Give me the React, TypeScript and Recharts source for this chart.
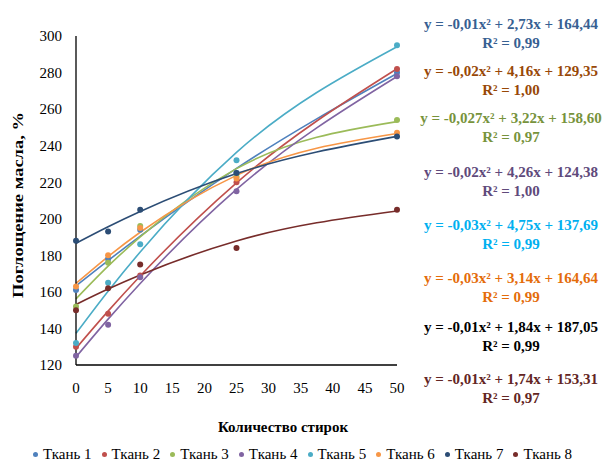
import { ComposedChart, Line, XAxis, YAxis, Legend } from 'recharts'

const WASHES = [0, 5, 10, 25, 50]
const FABRICS = ['Ткань 1', 'Ткань 2', 'Ткань 3', 'Ткань 4', 'Ткань 5', 'Ткань 6', 'Ткань 7', 'Ткань 8']

const FABRIC_1 = [161, 178, 194, 225, 280]
const FABRIC_2 = [130, 148, 169, 220, 282]
const FABRIC_3 = [152, 176, 196, 223, 254]
const FABRIC_4 = [125, 142, 168, 215, 278]
const FABRIC_5 = [132, 165, 186, 232, 295]
const FABRIC_6 = [163, 180, 195, 222, 247]
const FABRIC_7 = [188, 193, 205, 225, 245]
const FABRIC_8 = [150, 162, 175, 184, 205]

const EQUATIONS = [
  'y = -0,01x² + 2,73x + 164,44',
  'y = -0,02x² + 4,16x + 129,35',
  'y = -0,027x² + 3,22x + 158,60',
  'y = -0,02x² + 4,26x + 124,38',
  'y = -0,03x² + 4,75x + 137,69',
  'y = -0,03x² + 3,14x + 164,64',
  'y = -0,01x² + 1,84x + 187,05',
  'y = -0,01x² + 1,74x + 153,31',
]
const R_SQUARED = ['R² = 0,99', 'R² = 1,00', 'R² = 0,97', 'R² = 1,00', 'R² = 0,99', 'R² = 0,99', 'R² = 0,99', 'R² = 0,97']

const X_TICKS = [0, 5, 10, 15, 20, 25, 30, 35, 40, 45, 50]
const Y_TICKS = [120, 140, 160, 180, 200, 220, 240, 260, 280, 300]

const SERIES = [FABRIC_1, FABRIC_2, FABRIC_3, FABRIC_4, FABRIC_5, FABRIC_6, FABRIC_7, FABRIC_8]
const COLORS = ['#4F81BD', '#C0504D', '#9BBB59', '#8064A2', '#4BACC6', '#F79646', '#2C4D75', '#772C2A']
const EQ_COLORS = ['#376092', '#984807', '#77933C', '#604A7B', '#00B0F0', '#E46C0A', '#000000', '#632523']
const EQ_BASELINES = [29, 76, 123, 177, 230, 283, 332, 384]

const FONT = '"Liberation Serif", "Times New Roman", serif'

// least squares, 2nd order polynomial (same as the excel trendline)
function quadFit(xs: number[], ys: number[]) {
  let n = 0, sx = 0, sx2 = 0, sx3 = 0, sx4 = 0, sy = 0, sxy = 0, sx2y = 0
  xs.forEach((x, i) => {
    const y = ys[i]
    n += 1; sx += x; sx2 += x * x; sx3 += x ** 3; sx4 += x ** 4
    sy += y; sxy += x * y; sx2y += x * x * y
  })
  const det = (m: number[][]) =>
    m[0][0] * (m[1][1] * m[2][2] - m[1][2] * m[2][1]) -
    m[0][1] * (m[1][0] * m[2][2] - m[1][2] * m[2][0]) +
    m[0][2] * (m[1][0] * m[2][1] - m[1][1] * m[2][0])
  const A = [[sx4, sx3, sx2], [sx3, sx2, sx], [sx2, sx, n]]
  const B = [sx2y, sxy, sy]
  const D = det(A)
  const coef = [0, 1, 2].map((c) => det(A.map((row, r) => row.map((v, j) => (j === c ? B[r] : v)))) / D)
  return (x: number) => coef[0] * x * x + coef[1] * x + coef[2]
}

const fits = SERIES.map((ys) => quadFit(WASHES, ys))

const data = WASHES.map((x, i) => {
  const row: Record<string, number> = { x }
  SERIES.forEach((ys, k) => {
    row[`p${k}`] = ys[i]
    row[`f${k}`] = fits[k](x)
  })
  return row
})

function LegendRow({ payload }: any) {
  const items = (payload || []).filter((p: any) => FABRICS.includes(p.value))
  return (
    <div style={{ display: 'flex', justifyContent: 'center', fontFamily: FONT, fontSize: 15, color: '#000', whiteSpace: 'nowrap' }}>
      {items.map((p: any) => {
        const idx = FABRICS.indexOf(p.value)
        return (
          <div key={p.value} style={{ display: 'flex', alignItems: 'center', margin: '0 5px', flexShrink: 0 }}>
            <span style={{ width: 5, height: 5, borderRadius: '50%', background: COLORS[idx], marginRight: 5 }} />
            <span>{p.value}</span>
          </div>
        )
      })}
    </div>
  )
}

export default function App() {
  return (
    <div style={{ position: 'absolute', left: 0, top: 0, width: 605, height: 466, background: '#fff', fontFamily: FONT }}>
      <ComposedChart width={605} height={466} data={data} margin={{ top: 36, right: 208, bottom: 71, left: 16 }}>
        <XAxis
          type="number"
          dataKey="x"
          domain={[0, 50]}
          ticks={X_TICKS}
          tickSize={0}
          tickMargin={17}
          axisLine={{ stroke: '#000', strokeWidth: 1.3 }}
          tick={{ fill: '#000', fontSize: 15, fontFamily: FONT }}
          height={30}
        />
        <YAxis
          domain={[120, 300]}
          ticks={Y_TICKS}
          tickSize={0}
          tickMargin={14}
          width={60}
          axisLine={{ stroke: '#000', strokeWidth: 1.3 }}
          tick={{ fill: '#000', fontSize: 15, fontFamily: FONT }}
        />
        {SERIES.map((_, k) => (
          <Line
            key={`f${k}`}
            dataKey={`f${k}`}
            type="monotone"
            stroke={COLORS[k]}
            strokeWidth={1.6}
            dot={false}
            activeDot={false}
            legendType="none"
            isAnimationActive={false}
          />
        ))}
        {SERIES.map((_, k) => (
          <Line
            key={`p${k}`}
            dataKey={`p${k}`}
            name={FABRICS[k]}
            stroke="none"
            dot={{ r: 3, fill: COLORS[k], stroke: 'none' }}
            activeDot={false}
            isAnimationActive={false}
          />
        ))}
        <Legend
          layout="horizontal"
          verticalAlign="middle"
          align="center"
          content={LegendRow}
          wrapperStyle={{ top: 446, left: 0, width: 605 }}
        />
        <g style={{ fontFamily: FONT }} fontWeight="bold" fontSize={15}>
          <text
            x={18}
            y={205}
            textAnchor="middle"
            dominantBaseline="central"
            transform="rotate(-90, 18, 205)"
            textLength={186}
            lengthAdjust="spacingAndGlyphs"
            fill="#000"
          >
            Поглощение масла, %
          </text>
          <text x={283} y={432} textAnchor="middle" fill="#000">
            Количество стирок
          </text>
          {EQUATIONS.map((eq, k) => (
            <g key={eq} fill={EQ_COLORS[k]} textAnchor="middle">
              <text x={511} y={EQ_BASELINES[k]}>{eq}</text>
              <text x={511} y={EQ_BASELINES[k] + 19}>{R_SQUARED[k]}</text>
            </g>
          ))}
        </g>
      </ComposedChart>
    </div>
  )
}
